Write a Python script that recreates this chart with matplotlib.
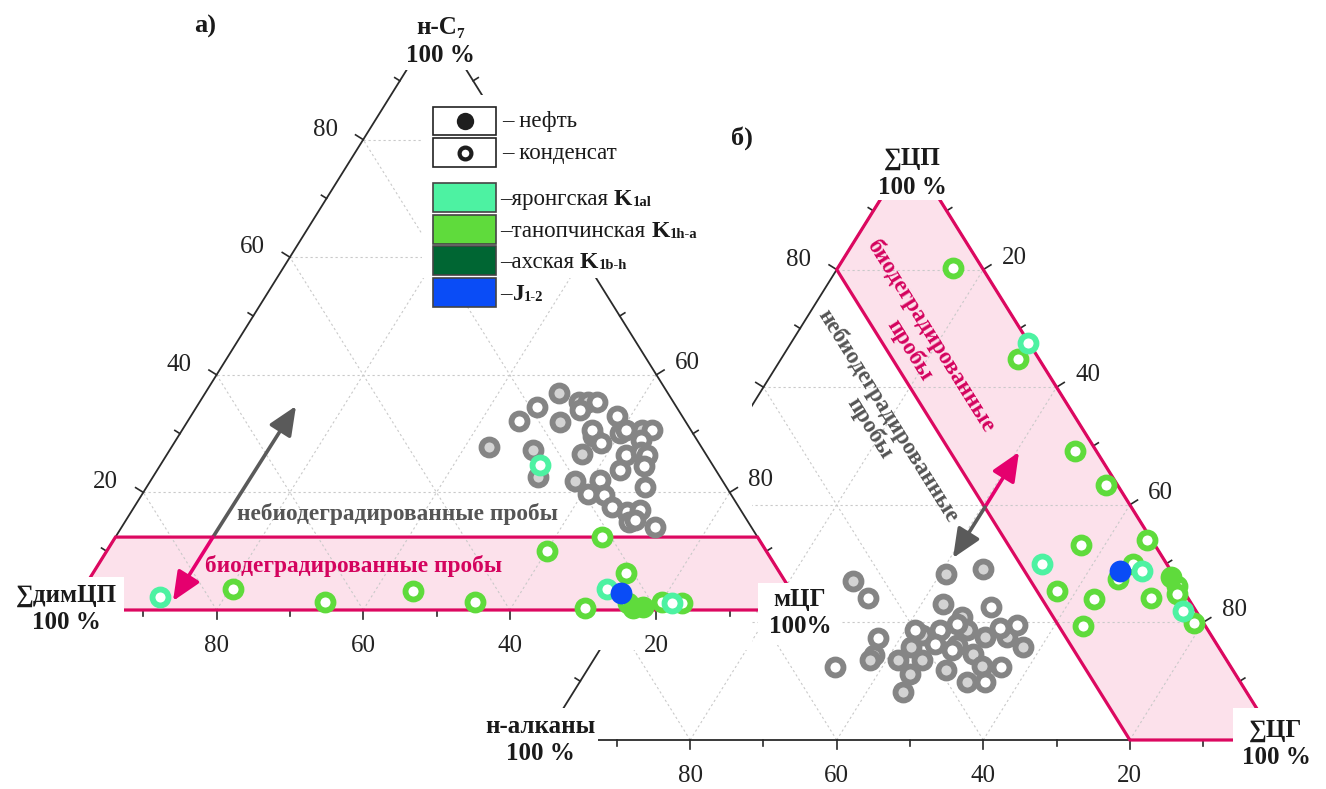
import matplotlib
matplotlib.use('Agg')
import matplotlib.pyplot as plt
from matplotlib.patches import Polygon, Rectangle
import numpy as np

SERIF = ['Liberation Serif', 'DejaVu Serif']
plt.rcParams['font.family'] = SERIF

# ---------------- data (percent) ----------------
# triangle a): components  н-C7 (top), мЦГ (right), ∑димЦП = rest (left)
a_gray_nc7 = [36.9, 34.6, 32.2, 35.4, 35.4, 35.3, 31.9, 34.0, 33.0, 30.6, 29.6, 27.8, 27.2,
              22.7, 26.5, 28.4, 30.1, 30.6, 30.6, 30.6, 28.9, 26.4, 26.9, 26.4, 24.5, 23.8,
              22.1, 22.0, 19.8, 19.6, 21.0, 17.6, 16.7, 17.0, 15.0, 15.3, 14.2]
a_gray_mcg = [48.3, 46.4, 45.1, 51.7, 53.0, 54.2, 50.9, 52.6, 58.1, 55.9, 56.6, 43.2, 49.5,
              52.5, 56.6, 58.3, 60.0, 60.6, 62.7, 64.1, 63.5, 62.7, 64.5, 65.5, 66.0, 63.1,
              61.3, 57.9, 60.8, 63.0, 67.9, 65.1, 67.6, 69.3, 68.7, 69.4, 72.7]
a_gray_fill = 'LWWLLWLWWWLLLLLWWWLWWWWWWWWLWWWWWWWWW'

a_yar_nc7 = [2.2, 3.6, 1.2, 24.7]
a_yar_mcg = [11.2, 71.5, 81.5, 51.8]
a_tan_nc7 = [3.6, 1.4, 3.2, 1.4, 10.0, 12.4, 6.3, 0.3, 1.2, 1.4, 1.2]
a_tan_mcg = [20.4, 34.1, 45.2, 54.6, 60.1, 66.4, 72.7, 70.1, 75.5, 80.1, 82.9]
a_tan_oil_nc7 = [0.3, 0.5]
a_tan_oil_mcg = [76.7, 77.9]
a_j_nc7 = [2.9]
a_j_mcg = [73.7]
a_band_nc7 = 12.4

# triangle б): components ∑ЦП (top), ∑ЦГ (right), н-алканы = rest (left)
b_gray_cp = [27.1, 24.1, 28.2, 29.0, 23.2, 22.7, 21.0, 18.7, 19.6, 19.0, 17.6, 17.5, 15.8,
             16.2, 14.7, 12.6, 12.5, 9.9, 9.9, 11.9, 11.3, 8.2, 12.4, 14.5, 17.3, 13.6,
             15.9, 13.6, 17.9, 18.7, 18.7, 15.3, 19.8, 16.4, 13.6]
b_gray_cg = [28.7, 32.2, 40.8, 45.5, 42.9, 49.7, 46.6, 48.4, 54.8, 52.8, 54.4, 51.5, 57.5,
             48.3, 51.3, 53.5, 56.1, 55.3, 52.8, 49.0, 44.4, 45.0, 33.6, 37.8, 37.0, 41.6,
             42.2, 44.8, 42.7, 41.4, 44.8, 48.1, 46.5, 45.2, 37.8]
b_gray_fill = 'LWLLLWLLWWLLLLLLWWLLLLWLWLLLLWWWWWL'

b_yar_cp = [67.5, 29.9, 28.8, 22.0]
b_yar_cg = [32.4, 53.1, 67.2, 76.3]
b_tan_cp = [80.2, 64.8, 49.1, 43.4, 34.0, 33.1, 27.3, 29.9, 26.2, 24.9, 25.4, 23.9, 24.1, 19.9, 19.4]
b_tan_cg = [15.7, 32.3, 48.0, 55.0, 65.4, 56.8, 64.8, 65.5, 73.4, 74.0, 57.4, 63.1, 70.9, 78.8, 63.9]
b_tan_oil_cp = [27.7]
b_tan_oil_cg = [71.8]
b_j_cp = [28.8]
b_j_cg = [64.3]
b_band_alk = 20

tick_values = [10, 20, 30, 40, 50, 60, 70, 80, 90]
# tick labels that are not hidden by the legend / other layer
labels_a = {'left': [20, 40, 60, 80], 'bottom': [20, 40, 60, 80], 'right': [60, 80]}
labels_b = {'left': [80], 'bottom': [20, 40, 60, 80], 'right': [20, 40, 60, 80]}
legend_labels = [('–яронгская', 'K', '1al'), ('–танопчинская', 'K', '1h-a'),
                 ('–ахская', 'K', '1b-h'), ('–', 'J', '1-2')]

# ---------------- styles ----------------
EDGE = '#2a2a2a'
GRID = '#c9c9c9'
BAND_EC = '#DC0860'
BAND_FC = '#FCE1EB'
PINK_TXT = '#D4035E'
GRAY_EC = '#858585'
GRAY_LIGHT = '#d3d3d3'
YAR = '#4DF2A2'
TAN = '#5FDB3C'
AKH = '#006633'
JUR = '#0A4CF6'
MS, MEW = 11.5, 4.2
TXT = 16.8

TRI_A = dict(a=(70.0, 610.0), b=(436.5, 22.0), c=(803.0, 610.0))
TRI_B = dict(a=(543.6, 740.0), b=(910.0, 152.0), c=(1276.4, 740.0))

fig = plt.figure(figsize=(13.26, 7.89), dpi=100)
ax = fig.add_axes([0, 0, 1, 1])
ax.set_xlim(0, 1326)
ax.set_ylim(789, 0)
ax.axis('off')


def tern(tri, b, c):
    b = np.asarray(b, float) / 100.0
    c = np.asarray(c, float) / 100.0
    a = 1.0 - b - c
    x = a * tri['a'][0] + b * tri['b'][0] + c * tri['c'][0]
    y = a * tri['a'][1] + b * tri['b'][1] + c * tri['c'][1]
    return x, y


def draw_triangle(tri, band, shown, z):
    A, B, C = (np.array(tri[k]) for k in 'abc')
    ax.add_patch(Polygon(band, closed=True, fc=BAND_FC, ec='none', zorder=z))
    for v in (20, 40, 60, 80):
        for bb, cc in (([v, v], [0, 100 - v]), ([0, 100 - v], [v, v]), ([0, 100 - v], [100 - v, 0])):
            x, y = tern(tri, bb, cc)
            ax.plot(x, y, color=GRID, lw=0.8, dashes=(2, 2.5), zorder=z + 1)
    edges = [(A, B, C, 'left'), (C, A, B, 'bottom'), (B, C, A, 'right')]
    for P, Q, R, side in edges:
        ax.plot([P[0], Q[0]], [P[1], Q[1]], color=EDGE, lw=1.3, zorder=z + 2)
        d = (Q - P) / np.linalg.norm(Q - P)
        n = np.array([-d[1], d[0]])
        if np.dot(n, R - P) > 0:
            n = -n
        for v in tick_values:
            p = P + v / 100.0 * (Q - P)
            ln = 9 if v % 20 == 0 else 6
            ax.plot([p[0], p[0] + n[0] * ln], [p[1], p[1] + n[1] * ln], color=EDGE, lw=1.2, zorder=z + 2)
    ax.add_patch(Polygon(band, closed=True, fc='none', ec=BAND_EC, lw=2.3, zorder=z + 3,
                         joinstyle='miter'))
    off = {'left': (-38, -10), 'bottom': (0, 36), 'right': (31, -12)}
    for P, Q, R, side in edges:
        for v in shown[side]:
            p = P + v / 100.0 * (Q - P)
            ax.text(p[0] + off[side][0], p[1] + off[side][1], str(v), fontsize=18,
                    ha='center', va='center', color='#222', zorder=z + 2)


def rings(tri, b, c, ec, fc='white', z=5):
    x, y = tern(tri, b, c)
    ax.plot(x, y, ls='none', marker='o', ms=MS, mew=MEW, mec=ec, mfc=fc, zorder=z)


def dots(tri, b, c, color, z=6):
    x, y = tern(tri, b, c)
    ax.plot(x, y, ls='none', marker='o', ms=MS + MEW, mew=0, mfc=color, zorder=z)


renderer = fig.canvas.get_renderer()


def rich(x, y, parts, ha='left', z=40, color='#1a1a1a'):
    items = []
    for s, size, weight, dy, gap in parts:
        t = ax.text(0, 0, s, fontsize=size, fontweight=weight, va='baseline', ha='left',
                    zorder=z, color=color)
        items.append((t, dy, t.get_window_extent(renderer).width + gap))
    total = sum(w for _, _, w in items)
    cur = x - total / 2 if ha == 'center' else x
    for t, dy, w in items:
        t.set_position((cur, y + dy))
        cur += w


def cover(x0, y0, x1, y1, z=30):
    ax.add_patch(Rectangle((x0, y0), x1 - x0, y1 - y0, fc='white', ec='none', zorder=z))


def arrow(head, tail, color, z):
    ax.annotate('', xy=head, xytext=tail,
                arrowprops=dict(arrowstyle='-|>,head_length=0.8,head_width=0.35', lw=2.6,
                                color=color, shrinkA=0, shrinkB=0, mutation_scale=22), zorder=z)


# ---------------- triangle б ----------------
band_b = [tern(TRI_B, 100 - b_band_alk, 0), tern(TRI_B, 100, 0),
          tern(TRI_B, 0, 100), tern(TRI_B, 0, 100 - b_band_alk)]
draw_triangle(TRI_B, band_b, labels_b, 1)
for f in 'LW':
    sel = [i for i, k in enumerate(b_gray_fill) if k == f]
    rings(TRI_B, [b_gray_cp[i] for i in sel], [b_gray_cg[i] for i in sel], GRAY_EC,
          GRAY_LIGHT if f == 'L' else 'white')
rings(TRI_B, b_tan_cp, b_tan_cg, TAN)
rings(TRI_B, b_yar_cp, b_yar_cg, YAR)
dots(TRI_B, b_tan_oil_cp, b_tan_oil_cg, TAN)
dots(TRI_B, b_j_cp, b_j_cg, JUR, z=7)
arrow((1019, 452), (985, 507), '#E5006E', 8)
arrow((953, 558), (985, 507), '#5a5a5a', 8)
ax.text(920, 343, 'биодеградированные\nпробы', rotation=-58, rotation_mode='anchor',
        ha='center', va='center', multialignment='center', fontsize=TXT, fontweight='bold',
        color=PINK_TXT, linespacing=1.2, zorder=8)
ax.text(879, 422, 'небиодеградированные\nпробы', rotation=-58, rotation_mode='anchor',
        ha='center', va='center', multialignment='center', fontsize=TXT, fontweight='bold',
        color='#555555', linespacing=1.0, zorder=8)

# layer background of a) hides the lower part of б)
cover(0, 0, 752, 650, z=10)

# ---------------- triangle а ----------------
band_a = [tern(TRI_A, 0, 0), tern(TRI_A, a_band_nc7, 0),
          tern(TRI_A, a_band_nc7, 100 - a_band_nc7), tern(TRI_A, 0, 100)]
draw_triangle(TRI_A, band_a, labels_a, 11)
for f in 'LW':
    sel = [i for i, k in enumerate(a_gray_fill) if k == f]
    rings(TRI_A, [a_gray_nc7[i] for i in sel], [a_gray_mcg[i] for i in sel], GRAY_EC,
          GRAY_LIGHT if f == 'L' else 'white', z=16)
rings(TRI_A, a_tan_nc7, a_tan_mcg, TAN, z=17)
rings(TRI_A, a_yar_nc7, a_yar_mcg, YAR, z=17)
dots(TRI_A, a_tan_oil_nc7, a_tan_oil_mcg, TAN, z=18)
dots(TRI_A, a_j_nc7, a_j_mcg, JUR, z=18)
arrow((296, 406), (213, 537), '#5a5a5a', 18)
arrow((173, 601), (213, 537), '#E5006E', 18)
ax.text(237, 520, 'небиодеградированные пробы', fontsize=TXT, fontweight='bold',
        color='#555555', va='baseline', ha='left', zorder=18)
ax.text(205, 572, 'биодеградированные пробы', fontsize=TXT, fontweight='bold',
        color=PINK_TXT, va='baseline', ha='left', zorder=18)

# ---------------- legend ----------------
cover(422, 95, 700, 278, z=20)
ax.add_patch(Rectangle((433, 107), 63, 28, fc='white', ec='#222', lw=1.2, zorder=21))
ax.add_patch(Rectangle((433, 138), 63, 29, fc='white', ec='#222', lw=1.2, zorder=21))
ax.plot([464.5], [121], ls='none', marker='o', ms=12.5, mew=0, mfc='#1e1e1e', zorder=22)
ax.plot([464.5], [152.5], ls='none', marker='o', ms=8.5, mew=3.0, mec='#1e1e1e', mfc='white', zorder=22)
rich(502, 127, [('– нефть', 16.5, 'normal', 0, 0)], z=22)
rich(502, 159, [('– конденсат', 16.5, 'normal', 0, 0)], z=22)
for i, (col, (txt, big, sub)) in enumerate(zip([YAR, TAN, AKH, JUR], legend_labels)):
    top = 183 + i * 31.7
    ax.add_patch(Rectangle((433, top), 63, 29, fc=col, ec='#444', lw=1.2, zorder=21))
    rich(500, top + 22, [(txt, 16.5, 'normal', 0, 6 if len(txt) > 1 else 1),
                         (big, 17, 'bold', 0, 0), (sub, 10.5, 'bold', 1, 0)], z=22)

# ---------------- vertex labels ----------------
cover(395, 0, 478, 70)
rich(440, 34, [('н-C', 18, 'bold', 0, -1), ('7', 11, 'bold', 4, 0)], ha='center', z=31)
rich(440, 62, [('100 %', 18, 'bold', 0, 0)], ha='center', z=31)
cover(0, 577, 124, 640)
rich(66, 602, [('∑димЦП', 18, 'bold', 0, 0)], ha='center', z=31)
rich(66, 629, [('100 %', 18, 'bold', 0, 0)], ha='center', z=31)
cover(758, 583, 842, 645)
rich(800, 606, [('мЦГ', 18, 'bold', 0, 0)], ha='center', z=31)
rich(800, 633, [('100%', 18, 'bold', 0, 0)], ha='center', z=31)
cover(468, 708, 598, 789)
rich(540, 733, [('н-алканы', 18, 'bold', 0, 0)], ha='center', z=31)
rich(540, 760, [('100 %', 18, 'bold', 0, 0)], ha='center', z=31)
cover(868, 128, 955, 200)
rich(912, 165, [('∑ЦП', 18, 'bold', 0, 0)], ha='center', z=31)
rich(912, 194, [('100 %', 18, 'bold', 0, 0)], ha='center', z=31)
cover(1233, 708, 1326, 789)
rich(1276, 737, [('∑ЦГ', 18, 'bold', 0, 0)], ha='center', z=31)
rich(1276, 764, [('100 %', 18, 'bold', 0, 0)], ha='center', z=31)

rich(194, 33, [('а)', 19, 'bold', 0, 0)], z=31)
rich(731, 145, [('б)', 19, 'bold', 0, 0)], z=31)

fig.savefig('out.png', dpi=100, facecolor='white')
